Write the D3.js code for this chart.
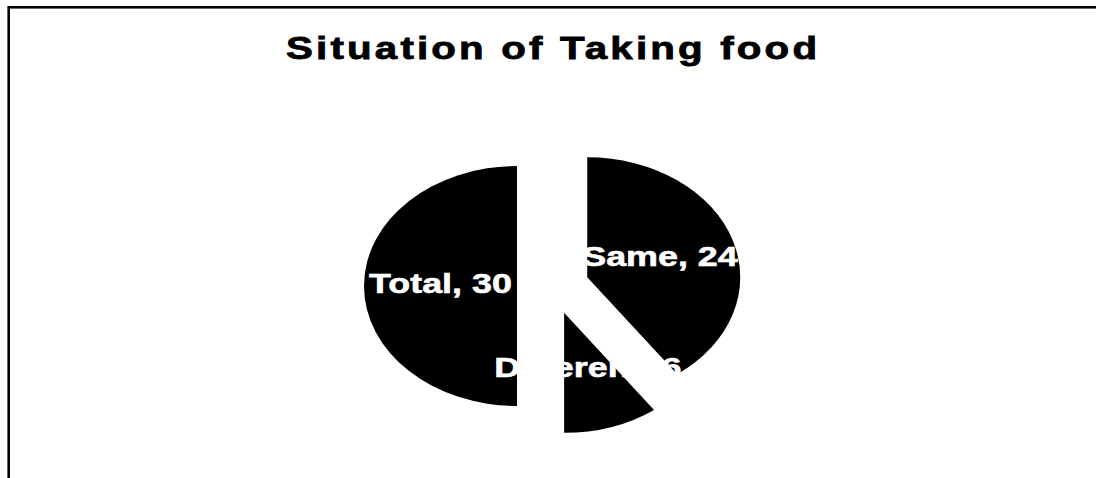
<!DOCTYPE html>
<html>
<head>
<meta charset="utf-8">
<script src="https://cdn.jsdelivr.net/npm/d3@7"></script>
<style>
  body { margin: 0; background: #fff; }
  text { font-family: "Liberation Sans", Arial, sans-serif; font-weight: bold; }
</style>
</head>
<body>
<div id="chart"></div>
<script>
// chart data (Excel order: first category starts at 12 o'clock)
const categories = ["Same", "Different", "Total"];
const values = [24, 6, 30];
const chartTitle = "Situation of Taking food";

// size and layout
const width = 1096;
const height = 478;
const cx = 553, cy = 286;   // pie centre
const radius = 153;         // horizontal radius
const squash = 0.784;       // vertical / horizontal
const explode = 36;         // slice pull-out

const svg = d3.select("#chart")
  .append("svg")
  .attr("width", width)
  .attr("height", height);

// outer frame, runs off the bottom and right of the window
svg.append("rect")
  .attr("x", 8.7)
  .attr("y", 7.3)
  .attr("width", width + 20)
  .attr("height", height + 20)
  .attr("fill", "#fff")
  .attr("stroke", "#000")
  .attr("stroke-width", 2.6);

// title, glyphs wide and spaced out like the original
const titleScale = 1.3;
const titleG = svg.append("g")
  .attr("transform", `translate(551.5, 59) scale(${titleScale}, 1)`);
titleG.append("text")
  .attr("text-anchor", "middle")
  .attr("font-size", 31)
  .attr("fill", "#000")
  .attr("stroke", "#000")
  .attr("stroke-width", 0.8)
  .attr("textLength", 531 / titleScale)
  .attr("lengthAdjust", "spacing")
  .text(chartTitle);

/*
  Pie
*/
const pie = d3.pie().sort(null).value(d => d.value);
const arcs = pie(categories.map((c, i) => ({name: c, value: values[i]})));

const arc = d3.arc().innerRadius(0).outerRadius(radius);

// explode offset of a slice along its middle angle (in circle space)
function offset(d) {
  const mid = (d.startAngle + d.endAngle) / 2;
  return [explode * Math.sin(mid), -explode * Math.cos(mid)];
}

const slices = svg.append("g")
  .attr("transform", `translate(${cx}, ${cy}) scale(1, ${squash})`);

slices.selectAll("path")
  .data(arcs)
  .enter()
  .append("path")
    .attr("transform", d => `translate(${offset(d)[0]}, ${offset(d)[1]})`)
    .attr("d", arc)
    .attr("fill", "#000");

// data labels, white, at the middle of each slice
const labels = svg.append("g");
labels.selectAll("text")
  .data(arcs)
  .enter()
  .append("text")
    .attr("x", d => cx + offset(d)[0] + arc.centroid(d)[0])
    .attr("y", d => cy + (offset(d)[1] + arc.centroid(d)[1]) * squash)
    .attr("dy", "0.25em")
    .attr("text-anchor", "middle")
    .attr("font-size", 28)
    .attr("fill", "#fff")
    .attr("stroke", "#fff")
    .attr("stroke-width", 0.6)
    .text(d => `${d.data.name}, ${d.data.value}`)
    .each(function() {
      const w = this.getComputedTextLength();
      d3.select(this)
        .attr("textLength", w * 1.28)
        .attr("lengthAdjust", "spacingAndGlyphs");
    });
</script>
</body>
</html>
